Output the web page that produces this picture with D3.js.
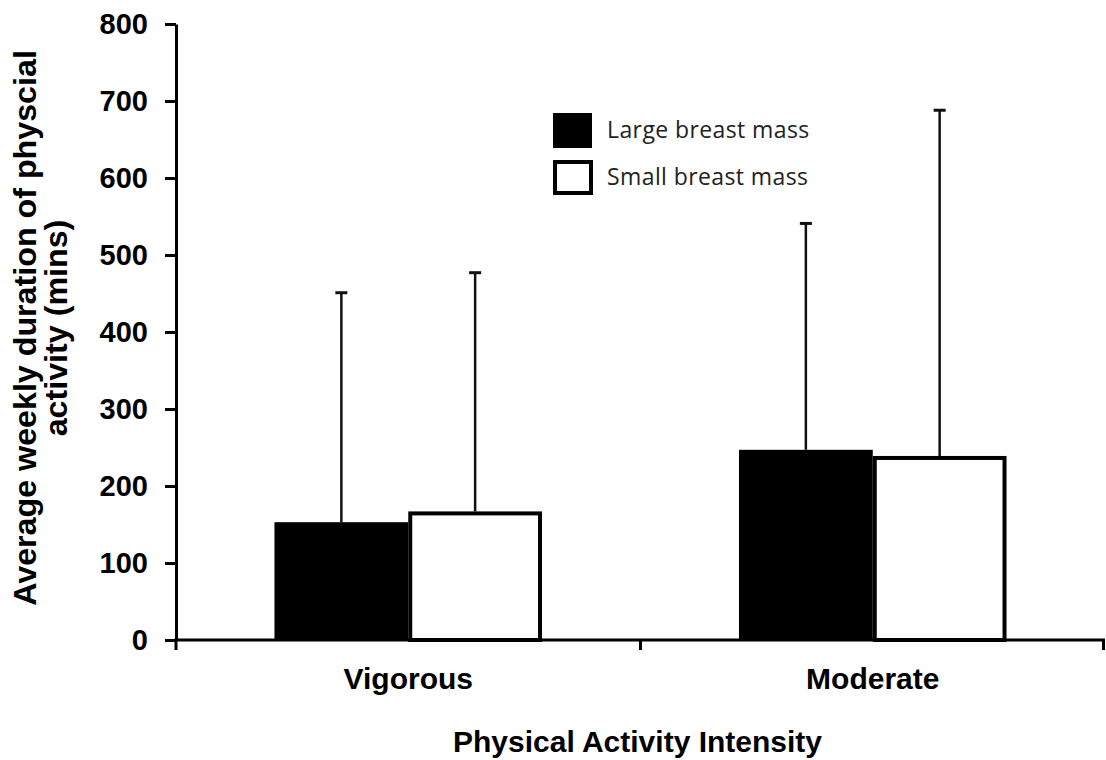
<!DOCTYPE html>
<html>
<head>
<meta charset="utf-8">
<script src="https://cdn.jsdelivr.net/npm/d3@7"></script>
<style>
    body { margin: 0; background: #fff; }
    svg { display: block; }
    .axis text { font-family: "Liberation Sans", Arial, sans-serif; font-weight: bold; fill: #000; }
</style>
</head>
<body>
<svg id="chart"></svg>
<script>
"use strict";

// Graph dimensions
const width = 1106;
const height = 760;
const margin = { top: 24, right: 1, bottom: 120, left: 176 };

// Data
const categories = ["Vigorous", "Moderate"];
const seriesNames = ["Large breast mass", "Small breast mass"];
const largeMeans = [153, 247];
const largeSd = [298, 294];
const smallMeans = [167, 239];
const smallSd = [310, 449];
const yTicks = [0, 100, 200, 300, 400, 500, 600, 700, 800];

const svg = d3.select("#chart").attr("width", width).attr("height", height);

const plotW = width - margin.left - margin.right;
const plotH = height - margin.top - margin.bottom;

// Scales
const xScale = d3.scaleBand().domain(categories).range([0, plotW]).padding(0);
const xInner = d3.scaleBand().domain(seriesNames)
    .range([xScale.bandwidth() * 0.212, xScale.bandwidth() * 0.788]).padding(0);
const yScale = d3.scaleLinear().domain([0, 800]).range([plotH, 0]);

const g = svg.append("g").attr("transform", `translate(${margin.left}, ${margin.top})`);

const rows = categories.map((c, i) => ({
    cat: c,
    values: [
        { name: seriesNames[0], mean: largeMeans[i], sd: largeSd[i] },
        { name: seriesNames[1], mean: smallMeans[i], sd: smallSd[i] }
    ]
}));

// error bars (upper only) drawn behind bars
const errG = g.append("g");
rows.forEach(r => {
    r.values.forEach(v => {
        const cx = xScale(r.cat) + xInner(v.name) + xInner.bandwidth() / 2;
        errG.append("line")
            .attr("x1", cx).attr("x2", cx)
            .attr("y1", yScale(v.mean)).attr("y2", yScale(v.mean + v.sd))
            .attr("stroke", "#111").attr("stroke-width", 2.5);
        errG.append("line")
            .attr("x1", cx - 6).attr("x2", cx + 6)
            .attr("y1", yScale(v.mean + v.sd)).attr("y2", yScale(v.mean + v.sd))
            .attr("stroke", "#111").attr("stroke-width", 3);
    });
});

// bars
const groups = g.selectAll(".grp").data(rows).enter()
    .append("g")
    .attr("class", "grp")
    .attr("transform", d => `translate(${xScale(d.cat)}, 0)`);

groups.selectAll("rect").data(d => d.values).enter()
    .append("rect")
    .attr("x", d => d.name === seriesNames[0] ? xInner(d.name) : xInner(d.name) + 2)
    .attr("y", d => d.name === seriesNames[0] ? yScale(d.mean) : yScale(d.mean) + 2)
    .attr("width", d => d.name === seriesNames[0] ? xInner.bandwidth() : xInner.bandwidth() - 4)
    .attr("height", d => d.name === seriesNames[0] ? plotH - yScale(d.mean) : plotH - yScale(d.mean) - 2)
    .attr("fill", d => d.name === seriesNames[0] ? "#000" : "#fff")
    .attr("stroke", d => d.name === seriesNames[0] ? "none" : "#000")
    .attr("stroke-width", 4);

// y axis
const yAxis = g.append("g").attr("class", "axis")
    .call(d3.axisLeft(yScale).tickValues(yTicks).tickSize(11).tickSizeOuter(0).tickPadding(17));
yAxis.select(".domain").attr("stroke", "#000").attr("stroke-width", 3);
yAxis.selectAll(".tick line").attr("stroke", "#000").attr("stroke-width", 3);
yAxis.selectAll("text").style("font-size", "29px");

// x axis: labels from band scale, ticks at band edges
const xAxis = g.append("g").attr("class", "axis")
    .attr("transform", `translate(0, ${plotH})`)
    .call(d3.axisBottom(xScale).tickSize(0).tickPadding(28));
xAxis.select(".domain").remove();
xAxis.selectAll("text").style("font-size", "30px");

const xBase = g.append("g").attr("transform", `translate(0, ${plotH})`);
xBase.append("line")
    .attr("x1", -1.5).attr("x2", plotW)
    .attr("stroke", "#000").attr("stroke-width", 3);
const edges = [0].concat(categories.map(c => xScale(c) + xScale.bandwidth()));
xBase.selectAll(".edge").data(edges).enter()
    .append("line")
    .attr("class", "edge")
    .attr("x1", d => Math.min(d, plotW - 1.5)).attr("x2", d => Math.min(d, plotW - 1.5))
    .attr("y1", 0).attr("y2", 10)
    .attr("stroke", "#000").attr("stroke-width", 3);

// axis titles
svg.append("text")
    .attr("x", margin.left + plotW / 2 - 3)
    .attr("y", 752)
    .attr("text-anchor", "middle")
    .style("font-family", "'Liberation Sans', Arial, sans-serif")
    .style("font-weight", "bold")
    .style("font-size", "30px")
    .text("Physical Activity Intensity");

const yTitle = svg.append("text")
    .attr("transform", `translate(36, ${margin.top + plotH / 2 - 4}) rotate(-90) scale(1.04, 1)`)
    .attr("text-anchor", "middle")
    .style("font-family", "'Liberation Sans', Arial, sans-serif")
    .style("font-weight", "bold")
    .style("font-size", "31px");
yTitle.append("tspan").attr("x", 0).attr("y", 0).text("Average weekly duration of physcial");
yTitle.append("tspan").attr("x", 0).attr("y", 31).text("activity (mins)");

// legend
const legend = svg.append("g").attr("transform", "translate(553, 113)");
seriesNames.forEach((name, i) => {
    const row = legend.append("g").attr("transform", `translate(0, ${i * 47})`);
    if (i === 0) {
        row.append("rect").attr("width", 39).attr("height", 35).attr("fill", "#000");
    } else {
        row.append("rect").attr("x", 2).attr("y", 2).attr("width", 36).attr("height", 31)
            .attr("fill", "#fff").attr("stroke", "#000").attr("stroke-width", 4);
    }
    row.append("text")
        .attr("x", 54).attr("y", 25)
        .style("font-family", "'Open Sans', sans-serif")
        .style("font-size", "23px")
        .style("letter-spacing", "0.4px")
        .attr("fill", "#222")
        .text(name);
});
</script>
</body>
</html>
